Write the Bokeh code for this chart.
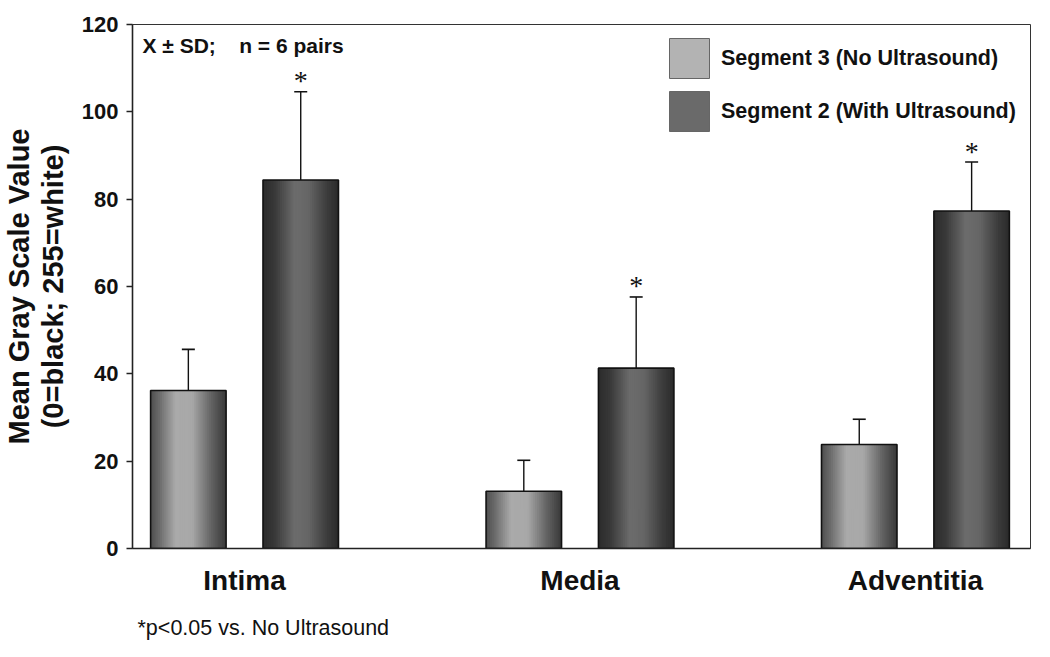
import numpy as np
from bokeh.plotting import figure
from bokeh.models import (Range1d, FixedTicker, Label, Legend, LegendItem,
                          ColumnDataSource, Whisker, TeeHead, Title)
from bokeh.embed import file_html
from bokeh.resources import INLINE
from bokeh.core.properties import value

# ---------------- data ----------------
categories = ["Intima", "Media", "Adventitia"]
series_names = ["Segment 3 (No Ultrasound)", "Segment 2 (With Ultrasound)"]
no_us_mean = [36.2, 13.1, 23.8]
no_us_sd = [9.4, 7.1, 5.8]
with_us_mean = [84.4, 41.3, 77.3]
with_us_sd = [20.2, 16.3, 11.2]
with_us_significant = [True, True, True]
y_ticks = [0, 20, 40, 60, 80, 100, 120]
stats_note = "X \u00b1 SD;\u00a0\u00a0\u00a0 n = 6 pairs"
footnote = "*p<0.05 vs. No Ultrasound"

# ---------------- style ----------------
FONT = "Liberation Sans"
BAR_W = 0.225
OFFSETS = [-0.1675, 0.1675]
N_STRIPS = 40
PROFILES = [
    [(0.0, 78), (0.12, 108), (0.33, 170), (0.55, 168), (0.80, 100), (1.0, 56)],
    [(0.0, 44), (0.15, 56), (0.42, 108), (0.60, 102), (0.85, 60), (1.0, 42)],
]
LEGEND_COLORS = ["#b3b3b3", "#6a6a6a"]

p = figure(width=1034, height=655, output_backend="svg", toolbar_location=None,
           x_range=Range1d(-0.334, 2.343), y_range=Range1d(0, 120),
           min_border_left=122, min_border_right=4, min_border_top=24,
           min_border_bottom=107)
p.background_fill_color = "white"
p.border_fill_color = "white"
p.xgrid.visible = False
p.ygrid.visible = False
p.outline_line_color = "#333333"
p.outline_line_width = 1.0

x_idx = np.arange(len(categories))
means = [no_us_mean, with_us_mean]
sds = [no_us_sd, with_us_sd]

def gray(level):
    level = int(round(max(0, min(255, level))))
    return "#%02x%02x%02x" % (level, level, level)

for s in range(2):
    xs = x_idx + OFFSETS[s]
    prof = PROFILES[s]
    pts = [a for a, _ in prof]
    lv = [b for _, b in prof]
    lefts, rights, tops, cols = [], [], [], []
    for xc, m in zip(xs, means[s]):
        x0 = xc - BAR_W / 2
        sw = BAR_W / N_STRIPS
        for k in range(N_STRIPS):
            t = (k + 0.5) / N_STRIPS
            lefts.append(x0 + k * sw)
            rights.append(x0 + (k + 1) * sw + (sw * 0.6 if k < N_STRIPS - 1 else 0))
            tops.append(m)
            cols.append(gray(np.interp(t, pts, lv)))
    p.quad(left=lefts, right=rights, bottom=0, top=tops, fill_color=cols,
           line_color=None)
    p.quad(left=xs - BAR_W / 2, right=xs + BAR_W / 2, bottom=0, top=means[s],
           fill_color=None, line_color="#111111", line_width=1.6)
    src = ColumnDataSource(dict(base=xs, lower=means[s],
                                upper=np.array(means[s]) + np.array(sds[s])))
    w = Whisker(source=src, base="base", lower="lower", upper="upper",
                dimension="height", line_color="#111111", line_width=1.4,
                lower_head=None,
                upper_head=TeeHead(size=13, line_color="#111111", line_width=1.6))
    p.add_layout(w)

# significance asterisks
sig_x = [x + OFFSETS[1] for x, sgn in zip(x_idx, with_us_significant) if sgn]
sig_y = [m + sd for m, sd, sgn in zip(with_us_mean, with_us_sd, with_us_significant) if sgn]
p.text(x=sig_x, y=sig_y, text=["*"] * len(sig_x), text_align="center",
       text_baseline="alphabetic", y_offset=-11,
       text_font=value("Liberation Serif"), text_font_size="28px",
       text_color="#111111")

# legend (flat swatches)
items = []
for s in range(2):
    r = p.quad(left=[np.nan], right=[np.nan], bottom=[np.nan], top=[np.nan],
               fill_color=LEGEND_COLORS[s], line_color="#666666", line_width=1)
    items.append(LegendItem(label=series_names[s], renderers=[r]))
legend = Legend(items=items, location=(532, 412), glyph_width=50, glyph_height=50,
                spacing=3, label_standoff=7, padding=0, margin=0,
                border_line_color=None, background_fill_alpha=0,
                label_text_font=FONT, label_text_font_style="bold",
                label_text_font_size="21.5px", label_text_color="#111111",
                label_height=50)
p.add_layout(legend)

# axes
p.yaxis.ticker = FixedTicker(ticks=y_ticks)
p.yaxis.axis_label = "Mean Gray Scale Value\n(0=black; 255=white)"
p.yaxis.axis_label_text_font = FONT
p.yaxis.axis_label_text_font_style = "bold"
p.yaxis.axis_label_text_font_size = "29px"
p.yaxis.axis_label_text_line_height = 1.05
p.yaxis.axis_label_text_color = "#111111"
p.yaxis.axis_label_standoff = 10
p.yaxis.major_label_text_font = FONT
p.yaxis.major_label_text_font_style = "bold"
p.yaxis.major_label_text_font_size = "22px"
p.yaxis.major_label_text_color = "#111111"
p.yaxis.major_label_standoff = 8
p.yaxis.major_tick_out = 6
p.yaxis.major_tick_in = 0
p.yaxis.minor_tick_line_color = None
p.yaxis.axis_line_color = "#222222"
p.yaxis.axis_line_width = 1.6
p.yaxis.major_tick_line_color = "#222222"
p.yaxis.major_tick_line_width = 1.4

p.xaxis.ticker = FixedTicker(ticks=list(x_idx))
p.xaxis.major_label_overrides = {int(i): c for i, c in zip(x_idx, categories)}
p.xaxis.major_label_text_font = FONT
p.xaxis.major_label_text_font_style = "bold"
p.xaxis.major_label_text_font_size = "28px"
p.xaxis.major_label_text_color = "#111111"
p.xaxis.major_label_standoff = 10
p.xaxis.major_tick_line_color = None
p.xaxis.minor_tick_line_color = None
p.xaxis.axis_line_color = "#222222"
p.xaxis.axis_line_width = 1.6

# annotations
p.add_layout(Label(x=10, y=503, x_units="screen", y_units="screen",
                   text=stats_note, text_font=FONT,
                   text_font_style="bold", text_font_size="21px",
                   text_color="#111111", text_baseline="middle"))
p.add_layout(Title(text=footnote, align="left", offset=5, standoff=31,
                   text_font=FONT, text_font_style="normal",
                   text_font_size="21.5px", text_color="#111111"), "below")

open("out.html", "w").write(file_html(p, INLINE))
